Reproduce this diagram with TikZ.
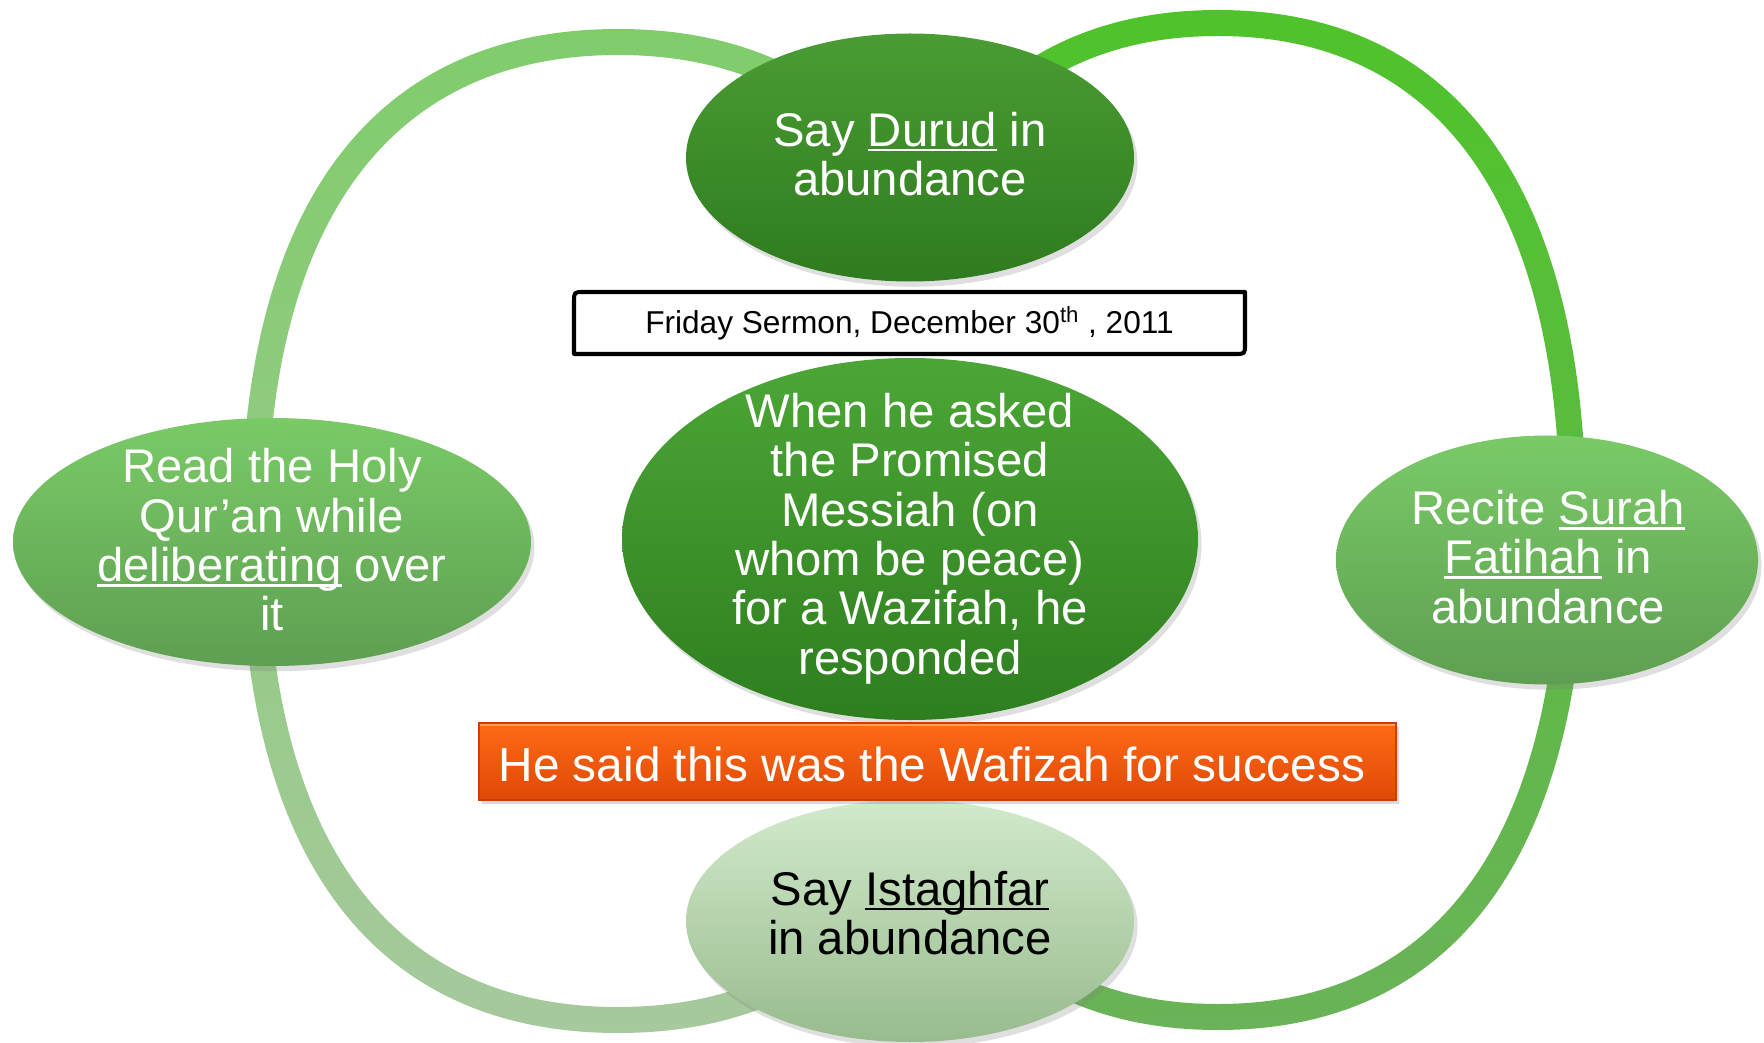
\documentclass[tikz,border=0pt]{standalone}
\usepackage{fontspec}
\setmainfont{Liberation Sans}
\usetikzlibrary{shapes.geometric,shadows}
\newcommand{\pxu}{0.02cm}
\newcommand{\ulin}[1]{\begingroup\sbox0{#1}\rlap{\rule[-0.11em]{\wd0}{0.06em}}\usebox0\endgroup}
\definecolor{ringLtop}{HTML}{80CC6B}
\definecolor{ringLmid}{HTML}{88C679}
\definecolor{ringLbot}{HTML}{A6C99D}
\definecolor{ringRtop}{HTML}{4FC32B}
\definecolor{ringRmid}{HTML}{5CBC41}
\definecolor{ringRbot}{HTML}{6AB358}
\definecolor{darkTop}{HTML}{4A9C33}
\definecolor{darkBot}{HTML}{2F7B1F}
\definecolor{cenTop}{HTML}{4CA636}
\definecolor{cenBot}{HTML}{2E7E1F}
\definecolor{midTop}{HTML}{7ACA67}
\definecolor{midBot}{HTML}{5E9F51}
\definecolor{paleTop}{HTML}{D2EACB}
\definecolor{paleBot}{HTML}{98BB8E}
\definecolor{orTop}{HTML}{FF6A16}
\definecolor{orBot}{HTML}{E04806}
\tikzset{
  ringshape/.style n args={5}{insert path={(#1,#2-#4) .. controls (#1+#5*#3,#2-#4) and (#1+#3,#2-#5*#4) .. (#1+#3,#2) .. controls (#1+#3,#2+#5*#4) and (#1+#5*#3,#2+#4) .. (#1,#2+#4) .. controls (#1-#5*#3,#2+#4) and (#1-#3,#2+#5*#4) .. (#1-#3,#2) .. controls (#1-#3,#2-#5*#4) and (#1-#5*#3,#2-#4) .. (#1,#2-#4) -- cycle}},
  ell/.style={ellipse, inner sep=0pt, draw=none, drop shadow={opacity=0.25, shadow xshift=2pt, shadow yshift=-3pt}},
  wtxt/.style={text=white, align=center, font=\fontsize{26.9pt}{28.1pt}\selectfont, inner sep=0pt},
  btxt/.style={wtxt, text=black},
}
\begin{document}
\begin{tikzpicture}[x=0.02cm, y=-0.02cm]
\useasboundingbox (0,0) rectangle (1764,1043);
% left ring
\begin{scope}
\clip (0,0) rectangle (800,1043);
\shade[even odd rule, top color=ringLtop, middle color=ringLmid, bottom color=ringLbot,
  ringshape={618}{531}{377}{502}{0.65}, ringshape={618}{531}{351}{476}{0.65}];
\end{scope}
% right ring
\begin{scope}
\clip (1000,0) rectangle (1764,1043);
\shade[even odd rule, top color=ringRtop, middle color=ringRmid, bottom color=ringRbot,
  ringshape={1218}{520}{368}{510}{0.65}, ringshape={1218}{520}{342}{484}{0.65}];
\end{scope}
% ellipses
\node[ell, minimum width=448*\pxu, minimum height=248*\pxu, top color=darkTop, bottom color=darkBot] (durud) at (910,157.5) {};
\node[ell, minimum width=576*\pxu, minimum height=362*\pxu, top color=cenTop, bottom color=cenBot] (center) at (910,539) {};
\node[ell, minimum width=518*\pxu, minimum height=248*\pxu, top color=midTop, bottom color=midBot] (quran) at (272,542) {};
\node[ell, minimum width=422*\pxu, minimum height=249*\pxu, top color=midTop, bottom color=midBot] (fatihah) at (1547,560) {};
\node[ell, minimum width=448*\pxu, minimum height=242*\pxu, top color=paleTop, bottom color=paleBot] (istaghfar) at (910,921) {};
% texts
\node[wtxt] (durudt) at (910,154) {Say \ulin{Durud} in\\abundance};
\node[wtxt] (centert) at (910,538.5) {When he asked\\the Promised\\Messiah (on\\whom be peace)\\for a Wazifah, he\\responded};
\node[wtxt] (qurant) at (272,540) {Read the Holy\\Qur’an while\\\ulin{deliberating} over\\it};
\node[wtxt] (fatihaht) at (1548,557) {Recite \ulin{Surah}\\\ulin{Fatihah} in\\abundance};
\node[btxt] (istaghfart) at (910,913) {Say \ulin{Istaghfar}\\in abundance};
% date box (round diagonal corners)
\filldraw[fill=white, draw=black, line width=2.3pt, line join=round]
  (584,292) -- (1245,292) -- (1245,344) .. controls (1245,354) .. (1235,354)
  -- (574,354) -- (574,302) .. controls (574,292) .. (584,292) -- cycle;
\node[minimum width=671*\pxu, minimum height=62*\pxu, inner sep=0pt, font=\fontsize{18pt}{20pt}\selectfont] (friday) at (909.5,323) {Friday Sermon, December 30\textsuperscript{th} , 2011};
% orange box
\node[top color=orTop, bottom color=orBot, draw=orBot!90!black, line width=0.6pt, minimum width=917*\pxu, minimum height=77*\pxu, inner sep=0pt, drop shadow={opacity=0.3, shadow xshift=1.5pt, shadow yshift=-2pt}] (wafizah) at (937.5,761.5) {};
\draw[white, opacity=0.35, line width=1.2pt] ([xshift=1pt,yshift=-1.2pt]wafizah.north west) -- ([xshift=-1pt,yshift=-1.2pt]wafizah.north east);
\node[text=white, inner sep=0pt, font=\fontsize{27.2pt}{28.1pt}\selectfont] (wafizaht) at (932,764) {He said this was the Wafizah for success};
\end{tikzpicture}
\end{document}
